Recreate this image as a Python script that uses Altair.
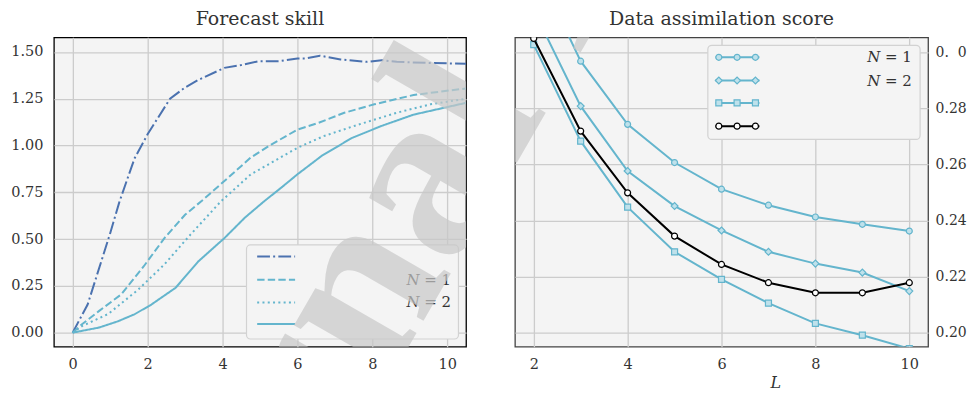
import altair as alt
import pandas as pd

FONT = "DejaVu Serif"
BLUE = "#4C72B0"
CYAN = "#64B5CD"
CYAN_FILL = "#BFE2EC"
TXT = "#333333"

# ---------------- Left panel: Forecast skill ----------------
fs_names = ["dashdot", "dashed", "dotted", "solid"]
fs_colors = [BLUE, CYAN, CYAN, CYAN]
fs_dashes = [[12.8, 3.2, 2, 3.2], [7.4, 3.2], [2, 3.3], [1, 0]]
fs_labels = ["", "N = 1", "N = 2", ""]

t_a = [0, 0.4, 1.0, 1.25, 1.65, 2.0, 2.6, 3.0, 3.35, 4.05, 4.5, 4.95, 5.5, 6.0, 6.2, 6.6, 7.15, 7.85, 8.25, 8.65, 9.55, 10.5]
v_a = [0, 0.15, 0.53, 0.70, 0.93, 1.06, 1.25, 1.31, 1.35, 1.415, 1.43, 1.45, 1.45, 1.465, 1.465, 1.48, 1.46, 1.447, 1.456, 1.447, 1.441, 1.437]

t_b = [0, 0.25, 0.7, 1.3, 1.9, 2.45, 3.0, 3.45, 4.05, 4.75, 5.3, 6.0, 6.55, 7.25, 8.05, 9.1, 10.5]
v_b = [0, 0.045, 0.115, 0.205, 0.355, 0.505, 0.63, 0.705, 0.81, 0.935, 1.005, 1.085, 1.12, 1.175, 1.22, 1.27, 1.305]

t_c = [0, 0.25, 0.95, 1.75, 2.45, 3.15, 3.95, 4.75, 6.0, 6.7, 7.6, 8.65, 9.55, 10.5]
v_c = [0, 0.035, 0.10, 0.23, 0.365, 0.525, 0.70, 0.845, 0.988, 1.05, 1.11, 1.175, 1.22, 1.25]

t_d = [0, 0.7, 1.2, 1.65, 2.1, 2.75, 3.35, 4.05, 4.6, 5.1, 5.6, 6.0, 6.65, 7.45, 8.25, 9.1, 10.5]
v_d = [0, 0.027, 0.06, 0.098, 0.15, 0.24, 0.38, 0.505, 0.615, 0.70, 0.78, 0.846, 0.945, 1.04, 1.105, 1.165, 1.228]

fs_t = [t_a, t_b, t_c, t_d]
fs_v = [v_a, v_b, v_c, v_d]

# ---------------- Right panel: Data assimilation score ----------------
L_vals = [2, 3, 4, 5, 6, 7, 8, 9, 10]
da_circle = [0.332, 0.2968, 0.2743, 0.2607, 0.2512, 0.2455, 0.2413, 0.2387, 0.2363]
da_diamond = [0.315, 0.2808, 0.2577, 0.2452, 0.2365, 0.2289, 0.2247, 0.2215, 0.2149]
da_square = [0.3027, 0.2683, 0.2448, 0.2289, 0.2191, 0.2106, 0.2034, 0.1992, 0.1944]
da_black = [0.3049, 0.2719, 0.2499, 0.2345, 0.2244, 0.2179, 0.2143, 0.2143, 0.2179]
da_series = [da_circle, da_diamond, da_square, da_black]
da_shapes = ["circle", "diamond", "square", "circle"]
da_line = [CYAN, CYAN, CYAN, "#000000"]
da_fill = [CYAN_FILL, CYAN_FILL, CYAN_FILL, "#FFFFFF"]
da_sizes = [36, 48, 36, 36]
da_labels = ["N = 1", "N = 2", "", ""]

one = pd.DataFrame({"k": [0]})

W_L, W_R, H = 413, 414, 310
PAD_LEFT = 2

# watermark placement (page coords -> panel coords)
WM_TEXT = "Journal Pre-proof"
WM_SIZE = 240
WM_ANGLE = 300
WM_PAGE = (146.1, 800.8)
LEFT_ORIGIN = (53.3, 36)
RIGHT_ORIGIN = (513.3, 36)


def watermark(origin):
    return alt.Chart(one).mark_text(
        text=WM_TEXT, font="Liberation Serif", fontWeight="bold",
        fontSize=WM_SIZE, angle=WM_ANGLE, align="left", baseline="alphabetic",
        fill="#c8c8c8", opacity=0.7, clip=True,
    ).encode(x=alt.value(WM_PAGE[0] - origin[0]), y=alt.value(WM_PAGE[1] - origin[1]))


def n_label(lbl, xr, y):
    if not lbl:
        return []
    rest = lbl[1:].strip()
    return [
        alt.Chart(one).mark_text(text=rest, align="right", baseline="middle", font=FONT,
                                 fontSize=15, color=TXT).encode(x=alt.value(xr), y=alt.value(y)),
        alt.Chart(one).mark_text(text="N", align="right", baseline="middle", font=FONT,
                                 fontStyle="italic", fontSize=15, color=TXT).encode(
            x=alt.value(xr - 31.5), y=alt.value(y)),
    ]


rows = []
for name, ts, vs in zip(fs_names, fs_t, fs_v):
    for t, v in zip(ts, vs):
        rows.append({"t": t, "v": v, "series": name})
df_left = pd.DataFrame(rows)

left_lines = alt.Chart(df_left).mark_line(strokeWidth=2, clip=True).encode(
    x=alt.X("t:Q", scale=alt.Scale(domain=[-0.5, 10.5], nice=False, zero=False),
            axis=alt.Axis(values=[0, 2, 4, 6, 8, 10], format="d", title=None)),
    y=alt.Y("v:Q", scale=alt.Scale(domain=[-0.075, 1.578], nice=False, zero=False),
            axis=alt.Axis(values=[0, 0.25, 0.5, 0.75, 1.0, 1.25, 1.5], format=".2f", title=None)),
    color=alt.Color("series:N", scale=alt.Scale(domain=fs_names, range=fs_colors), legend=None),
    strokeDash=alt.StrokeDash("series:N", scale=alt.Scale(domain=fs_names, range=fs_dashes), legend=None),
)

left_layers = [left_lines]
left_layers.append(alt.Chart(one).mark_rect(fill="#f4f4f4", stroke="#d2d2d2", strokeWidth=1.2,
                                            cornerRadius=4).encode(
    x=alt.value(193), x2=alt.value(405.4), y=alt.value(208), y2=alt.value(302.3)))
ly = [219.7, 243, 265.7, 287.3]
for i, name in enumerate(fs_names):
    left_layers.append(alt.Chart(one).mark_rule(color=fs_colors[i], strokeWidth=2,
                                                strokeDash=fs_dashes[i]).encode(
        x=alt.value(203.7), x2=alt.value(241.7), y=alt.value(ly[i])))
    left_layers += n_label(fs_labels[i], 398, ly[i])
left_layers.append(watermark(LEFT_ORIGIN))

left = alt.layer(*left_layers).properties(
    width=W_L, height=H,
    title=alt.TitleParams("Forecast skill"),
    view=alt.ViewBackground(stroke="#000000", strokeWidth=1.3, fill="#f4f4f4"),
)

# right panel
right_layers = []
x_enc = alt.X("L:Q", scale=alt.Scale(domain=[1.6, 10.4], nice=False, zero=False),
              axis=alt.Axis(values=[2, 4, 6, 8, 10], format="d", title="L",
                            titleFont=FONT, titleFontStyle="italic", titleFontWeight="normal",
                            titleFontSize=16, titleColor=TXT, titleX=261, titleY=41.3,
                            titleAlign="center", titleBaseline="alphabetic"))
y_enc = alt.Y("s:Q", scale=alt.Scale(domain=[0.1951, 0.3053], nice=False, zero=False),
              axis=alt.Axis(values=[0.20, 0.22, 0.24, 0.26, 0.28, 0.30], orient="right",
                            labelAlign="left", labelPadding=7, labelFontSize=14, title=None,
                            labelExpr="abs(datum.value - 0.3) < 1e-6 ? '0.\u20070' : format(datum.value, '.2f')"))
for i, vals in enumerate(da_series):
    d = pd.DataFrame({"L": L_vals, "s": vals})
    right_layers.append(alt.Chart(d).mark_line(color=da_line[i], strokeWidth=2, clip=True).encode(
        x=x_enc, y=y_enc))
    right_layers.append(alt.Chart(d).mark_point(shape=da_shapes[i], filled=True, fill=da_fill[i],
                                                stroke=da_line[i], strokeWidth=1.2, size=da_sizes[i],
                                                opacity=1, clip=True).encode(x=x_enc, y=y_enc))

right_layers.append(alt.Chart(one).mark_rect(fill="#f4f4f4", stroke="#d2d2d2", strokeWidth=1.2,
                                             cornerRadius=4).encode(
    x=alt.value(193.3), x2=alt.value(406), y=alt.value(8), y2=alt.value(102.3)))
ry = [20, 43.3, 65.7, 89]
mx = [204.3, 222.6, 241]
for i in range(4):
    right_layers.append(alt.Chart(one).mark_rule(color=da_line[i], strokeWidth=2).encode(
        x=alt.value(201), x2=alt.value(245), y=alt.value(ry[i])))
    for xx in mx:
        right_layers.append(alt.Chart(one).mark_point(shape=da_shapes[i], filled=True, fill=da_fill[i],
                                                      stroke=da_line[i], strokeWidth=1.2,
                                                      size=da_sizes[i], opacity=1).encode(
            x=alt.value(xx), y=alt.value(ry[i])))
    right_layers += n_label(da_labels[i], 397.6, ry[i])
right_layers.append(watermark(RIGHT_ORIGIN))

right = alt.layer(*right_layers).properties(
    width=W_R, height=H,
    title=alt.TitleParams("Data assimilation score"),
    view=alt.ViewBackground(stroke="#444444", strokeWidth=1.3, fill="#f4f4f4"),
)

chart = alt.hconcat(left, right, spacing=47).properties(
    padding={"left": PAD_LEFT, "top": 0, "right": 0, "bottom": -2},
).configure_axis(
    domain=False, ticks=False, grid=True, gridColor="#cccccc", gridWidth=1.3,
    labelFont=FONT, labelFontSize=14.5, labelColor=TXT, labelPadding=11,
).configure_title(
    font=FONT, fontSize=19, fontWeight="normal", color=TXT, offset=8.7, anchor="middle",
).configure_view(fill="#f4f4f4")

chart.save("out.html", embed_options={"renderer": "svg", "actions": False})
